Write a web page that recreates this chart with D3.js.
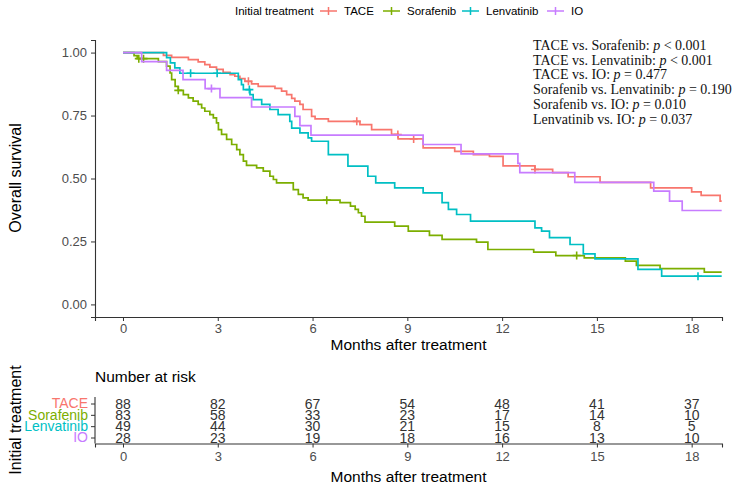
<!DOCTYPE html>
<html>
<head>
<meta charset="utf-8">
<script src="https://cdn.jsdelivr.net/npm/d3@7"></script>
<style>
  body { margin: 0; background: #fff; }
  text { font-family: "Liberation Sans", Arial, sans-serif; }
  text.serif, text.serif tspan { font-family: "Liberation Serif", "Times New Roman", serif; }
</style>
</head>
<body>
<div id="chart"></div>
<script>
// Data
const groups = ["TACE", "Sorafenib", "Lenvatinib", "IO"];
const groupColors = ["#F8766D", "#7CAE00", "#00BFC4", "#C77CFF"];

const taceTime = [0, 1.28, 1.54, 2.07, 2.38, 2.59, 2.75, 2.96, 3.17, 3.39, 3.54, 3.7, 3.86, 4.07, 4.28, 4.81, 5.02, 5.18, 5.34, 5.44, 5.6, 5.7, 5.97, 6.08, 6.5, 7.5, 7.87, 8.5, 8.71, 9.5, 10.5, 11.09, 11.6, 12.03, 13.04, 13.6, 14.09, 15.1, 16.7, 18.0, 18.3, 18.9];
const taceSurv = [1, 0.989, 0.981, 0.972, 0.963, 0.952, 0.942, 0.933, 0.922, 0.912, 0.906, 0.897, 0.886, 0.876, 0.866, 0.858, 0.847, 0.833, 0.818, 0.807, 0.794, 0.774, 0.747, 0.737, 0.727, 0.714, 0.694, 0.675, 0.657, 0.622, 0.608, 0.595, 0.588, 0.55, 0.536, 0.523, 0.507, 0.485, 0.463, 0.447, 0.433, 0.41];
const taceCensor = [3.97, 7.4, 8.7, 9.2, 13.04];

const soraTime = [0, 0.35, 0.45, 1.12, 1.38, 1.49, 1.54, 1.65, 1.75, 1.91, 2.07, 2.22, 2.38, 2.49, 2.59, 2.75, 2.86, 2.96, 3.02, 3.12, 3.28, 3.44, 3.6, 3.7, 3.81, 3.91, 4.23, 4.44, 4.65, 4.76, 4.86, 5.39, 5.55, 5.7, 5.86, 6.87, 7.2, 7.35, 7.45, 7.55, 7.66, 8.6, 9.03, 9.7, 10.1, 11.19, 11.55, 13.0, 13.7, 14.6, 15.9, 16.25, 17.0, 18.4];
const soraSurv = [1, 0.988, 0.976, 0.964, 0.946, 0.919, 0.893, 0.866, 0.85, 0.833, 0.82, 0.807, 0.794, 0.78, 0.767, 0.754, 0.741, 0.721, 0.694, 0.675, 0.655, 0.635, 0.615, 0.595, 0.569, 0.552, 0.542, 0.529, 0.509, 0.496, 0.483, 0.456, 0.437, 0.423, 0.414, 0.404, 0.39, 0.377, 0.364, 0.35, 0.327, 0.311, 0.291, 0.274, 0.258, 0.247, 0.218, 0.208, 0.194, 0.185, 0.172, 0.155, 0.142, 0.128];
const soraCensor = [0.5, 0.65, 1.75, 6.45, 14.36];

const lenvTime = [0, 1.38, 1.5, 1.64, 1.8, 3.65, 3.75, 3.81, 4.02, 4.12, 4.39, 4.65, 4.91, 5.28, 5.34, 5.6, 5.86, 5.97, 6.5, 7.12, 7.75, 8.0, 8.6, 9.5, 10.1, 10.3, 10.56, 11.0, 13.04, 13.25, 13.5, 14.15, 14.57, 14.94, 16.3, 17.05];
const lenvSurv = [1, 0.98, 0.959, 0.939, 0.918, 0.893, 0.873, 0.853, 0.833, 0.813, 0.794, 0.774, 0.754, 0.727, 0.7, 0.681, 0.661, 0.648, 0.595, 0.549, 0.509, 0.483, 0.463, 0.443, 0.404, 0.377, 0.357, 0.331, 0.304, 0.291, 0.265, 0.238, 0.201, 0.181, 0.139, 0.112];
const lenvCensor = [2.14, 2.98, 4.0, 18.2];

const ioTime = [0, 0.59, 1.38, 1.9, 2.6, 3.07, 4.07, 5.44, 5.6, 5.95, 9.5, 10.7, 12.5, 12.56, 14.3, 16.8, 17.3, 17.7];
const ioSurv = [1, 0.964, 0.929, 0.893, 0.857, 0.821, 0.784, 0.747, 0.71, 0.672, 0.635, 0.598, 0.56, 0.523, 0.485, 0.45, 0.41, 0.373];
const ioCensor = [2.8];

const followUpEnd = 18.95;

const xTicks = [0, 3, 6, 9, 12, 15, 18];
const yTicks = [0, 0.25, 0.5, 0.75, 1];

const riskTACE = [88, 82, 67, 54, 48, 41, 37];
const riskSora = [83, 58, 33, 23, 17, 14, 10];
const riskLenv = [49, 44, 30, 21, 15, 8, 5];
const riskIO = [28, 23, 19, 18, 16, 13, 10];

const pLabels = [
  ["TACE vs. Sorafenib: ", " < 0.001"],
  ["TACE vs. Lenvatinib: ", " < 0.001"],
  ["TACE vs. IO: ", " = 0.477"],
  ["Sorafenib vs. Lenvatinib: ", " = 0.190"],
  ["Sorafenib vs. IO: ", " = 0.010"],
  ["Lenvatinib vs. IO: ", " = 0.037"],
];

const curves = [
  { time: taceTime, surv: taceSurv, censor: taceCensor },
  { time: soraTime, surv: soraSurv, censor: soraCensor },
  { time: lenvTime, surv: lenvSurv, censor: lenvCensor },
  { time: ioTime, surv: ioSurv, censor: ioCensor },
];
const riskRows = [riskTACE, riskSora, riskLenv, riskIO];

//   Parameters
const w = 735;
const h = 491;
const left = 95;
const right = 722;

const svg = d3
  .select("#chart")
  .append("svg")
  .attr("width", w)
  .attr("height", h);

//   Scales (ggplot style expansion)
const xScale = d3.scaleLinear().domain([-0.886, 18.96]).range([left, right]);
const yScale = d3.scaleLinear().domain([-0.05, 1.05]).range([317, 40]);

//   Survival panel axes
const xAxis = d3.axisBottom(xScale).tickValues(xTicks).tickSizeOuter(0).tickSize(4).tickPadding(3);
const yAxis = d3
  .axisLeft(yScale)
  .tickValues(yTicks)
  .tickSizeOuter(0)
  .tickSize(4)
  .tickPadding(4)
  .tickFormat(d3.format(".2f"));

const gx = svg
  .append("g")
  .attr("transform", "translate(0,317)")
  .call(xAxis);
const gy = svg
  .append("g")
  .attr("transform", "translate(" + left + ",0)")
  .call(yAxis);

[gx, gy].forEach((g) => {
  g.select(".domain").attr("stroke", "#333").attr("stroke-width", 1.1);
  g.selectAll(".tick line").attr("stroke", "#333");
  g.selectAll(".tick text")
    .attr("fill", "#4d4d4d")
    .style("font-size", "13px");
});

svg
  .append("text")
  .attr("x", (left + right) / 2)
  .attr("y", 350)
  .attr("text-anchor", "middle")
  .style("font-size", "15.5px")
  .text("Months after treatment");

svg
  .append("text")
  .attr("transform", "translate(21,178) rotate(-90)")
  .attr("text-anchor", "middle")
  .style("font-size", "16px")
  .text("Overall survival");

//   Curves
const stepLine = d3
  .line()
  .curve(d3.curveStepAfter)
  .x((d) => xScale(d[0]))
  .y((d) => yScale(d[1]));

const survAt = (c, t) => {
  let s = c.surv[0];
  c.time.forEach((tt, i) => {
    if (tt <= t) s = c.surv[i];
  });
  return s;
};

curves.forEach((c, k) => {
  const pts = c.time.map((t, i) => [t, c.surv[i]]);
  pts.push([followUpEnd, c.surv[c.surv.length - 1]]);
  svg
    .append("path")
    .attr("d", stepLine(pts))
    .attr("fill", "none")
    .attr("stroke", groupColors[k])
    .attr("stroke-width", 1.7);

  c.censor.forEach((t) => {
    const cx = xScale(t);
    const cy = yScale(survAt(c, t));
    svg
      .append("path")
      .attr("d", "M" + (cx - 4) + "," + cy + "H" + (cx + 4) + "M" + cx + "," + (cy - 4) + "V" + (cy + 4))
      .attr("stroke", groupColors[k])
      .attr("stroke-width", 1.6);
  });
});

//   P values
pLabels.forEach((p, i) => {
  const t = svg
    .append("text")
    .attr("class", "serif")
    .attr("x", 533)
    .attr("y", 50 + i * 14.7)
    .attr("fill", "#111")
    .style("font-size", "14px");
  t.append("tspan").text(p[0]);
  t.append("tspan").style("font-style", "italic").text("p");
  t.append("tspan").text(p[1]);
});

//   Legend
const legend = svg.append("g");
legend
  .append("text")
  .attr("x", 235)
  .attr("y", 15)
  .style("font-size", "11.5px")
  .text("Initial treatment");
const legendX = [320, 383, 462, 547];
groups.forEach((g, k) => {
  const lx = legendX[k];
  legend
    .append("path")
    .attr("d", "M" + lx + ",11H" + (lx + 17) + "M" + (lx + 8.5) + ",7V15")
    .attr("stroke", groupColors[k])
    .attr("stroke-width", 1.5);
  legend
    .append("text")
    .attr("x", lx + 24)
    .attr("y", 15)
    .style("font-size", "11.5px")
    .text(g);
});

//   Risk table
const rowScale = d3.scalePoint().domain(groups).range([403.5, 437.5]);

svg
  .append("text")
  .attr("x", left)
  .attr("y", 382)
  .style("font-size", "15.5px")
  .text("Number at risk");

const tx = svg
  .append("g")
  .attr("transform", "translate(0,443.5)")
  .call(d3.axisBottom(xScale).tickValues(xTicks).tickSizeOuter(0).tickSize(4).tickPadding(4));
const ty = svg
  .append("g")
  .attr("transform", "translate(" + left + ",0)")
  .call(d3.axisLeft(rowScale).tickSizeOuter(0).tickSize(4).tickPadding(3));

ty.select(".domain").attr("d", "M0,397V443.5");
[tx, ty].forEach((g) => {
  g.select(".domain").attr("stroke", "#333").attr("stroke-width", 1.1);
  g.selectAll(".tick line").attr("stroke", "#333");
});
tx.selectAll(".tick text").attr("fill", "#4d4d4d").style("font-size", "13px");
ty.selectAll(".tick text")
  .attr("fill", (d, i) => groupColors[i])
  .style("font-size", "14px");

riskRows.forEach((row, k) => {
  row.forEach((n, i) => {
    svg
      .append("text")
      .attr("x", xScale(xTicks[i]))
      .attr("y", rowScale(groups[k]))
      .attr("dy", "0.36em")
      .attr("text-anchor", "middle")
      .attr("fill", "#333")
      .style("font-size", "14px")
      .text(n);
  });
});

svg
  .append("text")
  .attr("x", (left + right) / 2)
  .attr("y", 482)
  .attr("text-anchor", "middle")
  .style("font-size", "15.5px")
  .text("Months after treatment");

svg
  .append("text")
  .attr("transform", "translate(21,420) rotate(-90)")
  .attr("text-anchor", "middle")
  .style("font-size", "16px")
  .text("Initial treatment");
</script>
</body>
</html>
